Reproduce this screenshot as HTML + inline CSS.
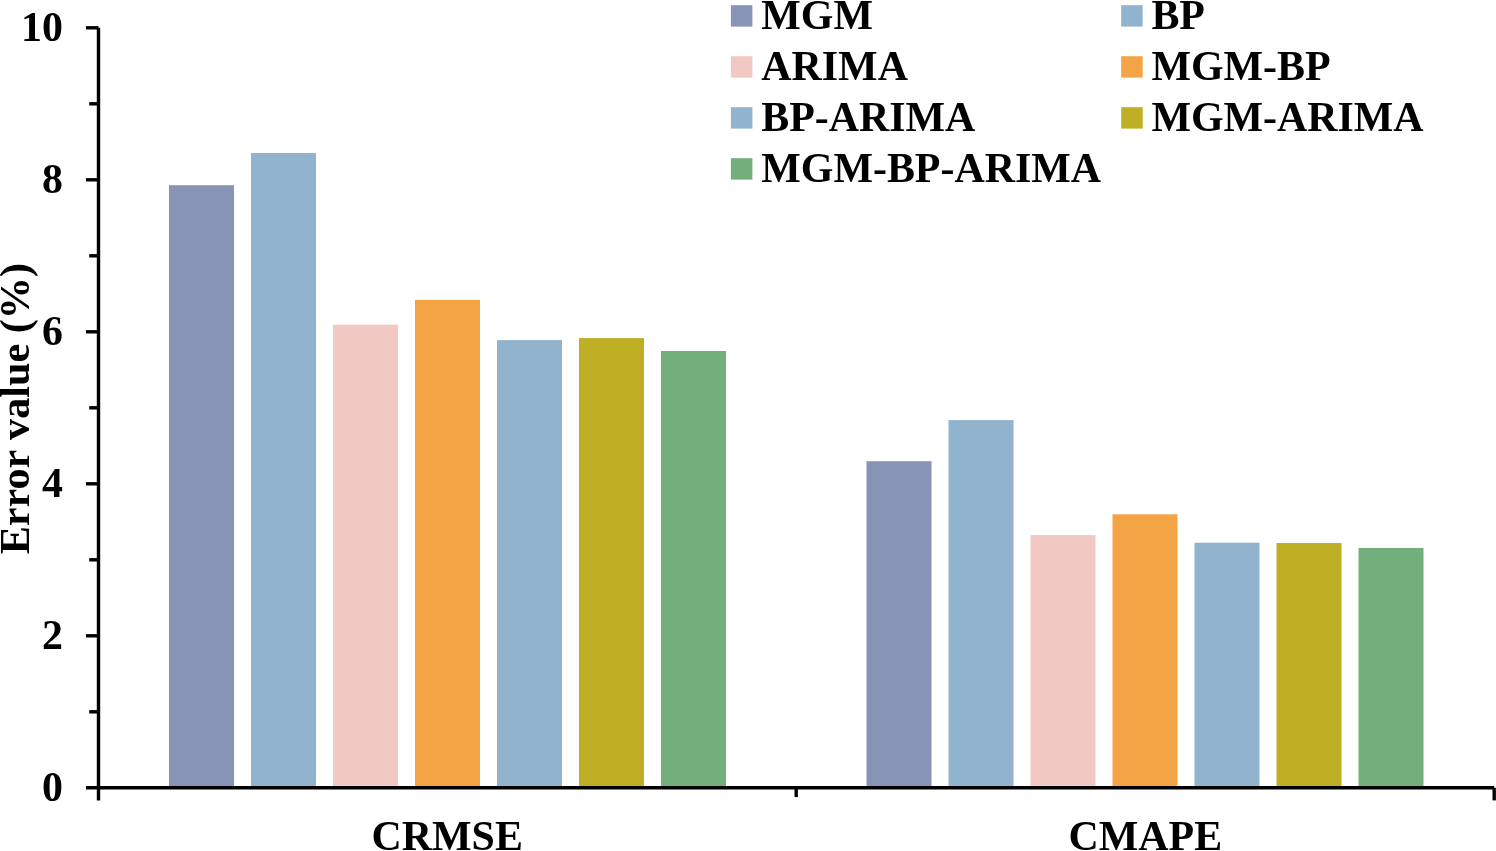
<!DOCTYPE html>
<html><head><meta charset="utf-8"><title>Error value chart</title>
<style>html,body{margin:0;padding:0;background:#fff;overflow:hidden}svg{display:block;will-change:transform}text{font-family:"Liberation Serif","Times New Roman",serif;font-weight:bold;font-size:41.9px;fill:#000}</style></head><body>
<svg width="1496" height="851" viewBox="0 0 1496 851">
<rect width="1496" height="851" fill="#fff"/>
<rect x="169.0" y="185.2" width="65.0" height="602.6" fill="#8894B6"/>
<rect x="251.0" y="153.0" width="65.0" height="634.8" fill="#91B3CE"/>
<rect x="333.0" y="324.6" width="65.0" height="463.2" fill="#F2C8C2"/>
<rect x="415.0" y="299.9" width="65.0" height="487.9" fill="#F4A445"/>
<rect x="497.0" y="340.1" width="65.0" height="447.7" fill="#91B3CE"/>
<rect x="579.0" y="338.1" width="65.0" height="449.7" fill="#BEAF24"/>
<rect x="661.0" y="351.0" width="65.0" height="436.8" fill="#72AF7C"/>
<rect x="866.5" y="461.2" width="65.0" height="326.6" fill="#8894B6"/>
<rect x="948.5" y="420.1" width="65.0" height="367.7" fill="#91B3CE"/>
<rect x="1030.5" y="535.1" width="65.0" height="252.7" fill="#F2C8C2"/>
<rect x="1112.5" y="514.3" width="65.0" height="273.5" fill="#F4A445"/>
<rect x="1194.5" y="542.7" width="65.0" height="245.1" fill="#91B3CE"/>
<rect x="1276.5" y="543.0" width="65.0" height="244.8" fill="#BEAF24"/>
<rect x="1358.5" y="548.0" width="65.0" height="239.8" fill="#72AF7C"/>
<g stroke="#000" stroke-width="3.4" fill="none">
<path d="M98.5 27.7 V800.4"/>
<path d="M86 787.8 H1494.2"/>
<path d="M89.2 711.8 H98.5"/>
<path d="M86 635.8 H98.5"/>
<path d="M89.2 559.8 H98.5"/>
<path d="M86 483.8 H98.5"/>
<path d="M89.2 407.8 H98.5"/>
<path d="M86 331.8 H98.5"/>
<path d="M89.2 255.8 H98.5"/>
<path d="M86 179.8 H98.5"/>
<path d="M89.2 103.8 H98.5"/>
<path d="M86 27.8 H98.5"/>
<path d="M796.2 787.8 V797.1"/>
<path d="M1494.2 787.8 V800.4"/>
</g>
<text x="63" y="801.0" text-anchor="end">0</text>
<text x="63" y="649.0" text-anchor="end">2</text>
<text x="63" y="497.0" text-anchor="end">4</text>
<text x="63" y="345.0" text-anchor="end">6</text>
<text x="63" y="193.0" text-anchor="end">8</text>
<text x="63" y="41.0" text-anchor="end">10</text>
<text transform="translate(29.4 408.7) rotate(-90)" text-anchor="middle" style="font-size:42.2px">Error value (%)</text>
<text x="447.2" y="849.5" text-anchor="middle">CRMSE</text>
<text x="1145.3" y="849.5" text-anchor="middle">CMAPE</text>
<rect x="730.9" y="5.2" width="21.5" height="21.4" fill="#8894B6"/>
<text x="761.3" y="28.7">MGM</text>
<rect x="1121.2" y="5.2" width="21.5" height="21.4" fill="#91B3CE"/>
<text x="1151.4" y="28.7">BP</text>
<rect x="730.9" y="56.2" width="21.5" height="21.4" fill="#F2C8C2"/>
<text x="761.3" y="79.7">ARIMA</text>
<rect x="1121.2" y="56.2" width="21.5" height="21.4" fill="#F4A445"/>
<text x="1151.4" y="79.7">MGM-BP</text>
<rect x="730.9" y="107.2" width="21.5" height="21.4" fill="#91B3CE"/>
<text x="761.3" y="130.7">BP-ARIMA</text>
<rect x="1121.2" y="107.2" width="21.5" height="21.4" fill="#BEAF24"/>
<text x="1151.4" y="130.7">MGM-ARIMA</text>
<rect x="730.9" y="158.2" width="21.5" height="21.4" fill="#72AF7C"/>
<text x="761.3" y="181.7">MGM-BP-ARIMA</text>
</svg></body></html>
